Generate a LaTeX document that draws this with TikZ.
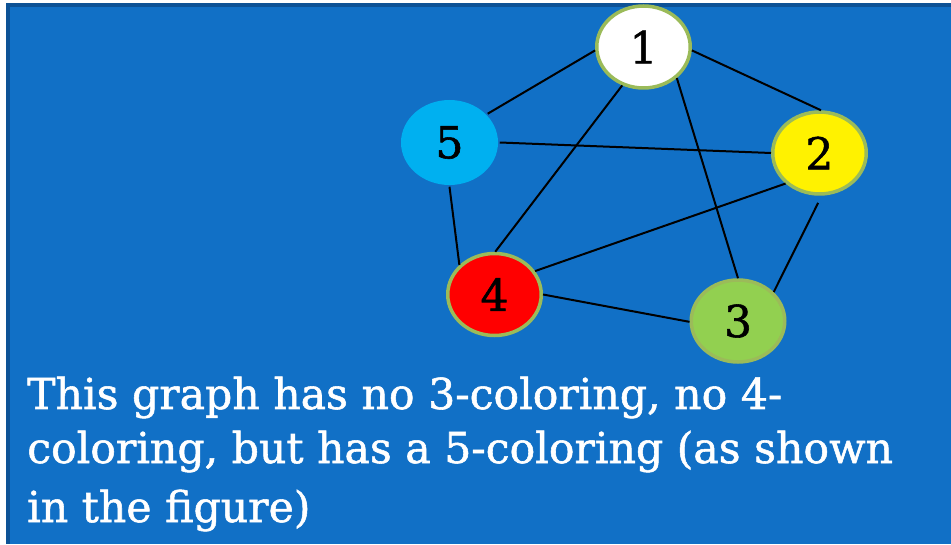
\documentclass[tikz,border=0pt]{standalone}
\usepackage{fontspec}
\setmainfont[FakeBold=1.3]{DejaVu Serif}
\usetikzlibrary{shapes.geometric}
\definecolor{slideblue}{RGB}{17,112,198}
\definecolor{slideedge}{RGB}{13,82,150}
\definecolor{ringgreen}{RGB}{155,187,89}
\definecolor{leafgreen}{RGB}{146,208,80}
\definecolor{skyblue}{RGB}{0,176,240}

\begin{document}
\begin{tikzpicture}[
    x=1pt, y=1pt,
    vtx/.style={ellipse, minimum width=93.5pt, minimum height=82pt, inner sep=0pt,
                draw=ringgreen, line width=3.5pt, font=\fontsize{44}{44}\selectfont},
    edge/.style={draw=black, line width=2pt},
    caption/.style={anchor=base west, inner sep=0pt, text=white,
                    font=\fontsize{42.6}{56}\selectfont},
]
% slide background
\useasboundingbox (0,0) rectangle (951,544);
\fill[white] (0,0) rectangle (951,544);
\fill[slideedge] (6,0) rectangle (951,541);
\fill[slideblue] (10,0) rectangle (951,537);

% the five vertices
\node[vtx, fill=white]              (n1) at (643.5,497) {1};
\node[vtx, fill=skyblue, draw=none, minimum width=97pt, minimum height=85pt] (n5) at (449.5,401.5) {5};
\node[vtx, fill=yellow]             (n2) at (819.5,391) {2};
\node[vtx, fill=red]                (n4) at (494.5,249.5) {4};
\node[vtx, fill=leafgreen]          (n3) at (738,223) {3};

% every pair joined except 5 and 3 (end points given as border angles)
\foreach \a/\p/\b/\q in {n1/184/n5/37, n1/356/n2/88, n1/241/n4/89, n1/317/n3/90,
                         n5/0/n2/180, n5/270/n4/140, n2/222/n4/30, n4/0/n3/181}
    \draw[edge] (\a.\p) -- (\b.\q);
\draw[edge, shorten <=8pt] (n2.273) -- (n3.39);

% text under the graph
\node[caption] (txt1) at (27,135) {This graph has no 3-coloring, no 4-};
\node[caption] (txt2) at (27,81) {coloring, but has a 5-coloring (as shown};
\node[caption] (txt3) at (27,22) {in the figure)};
\end{tikzpicture}
\end{document}
